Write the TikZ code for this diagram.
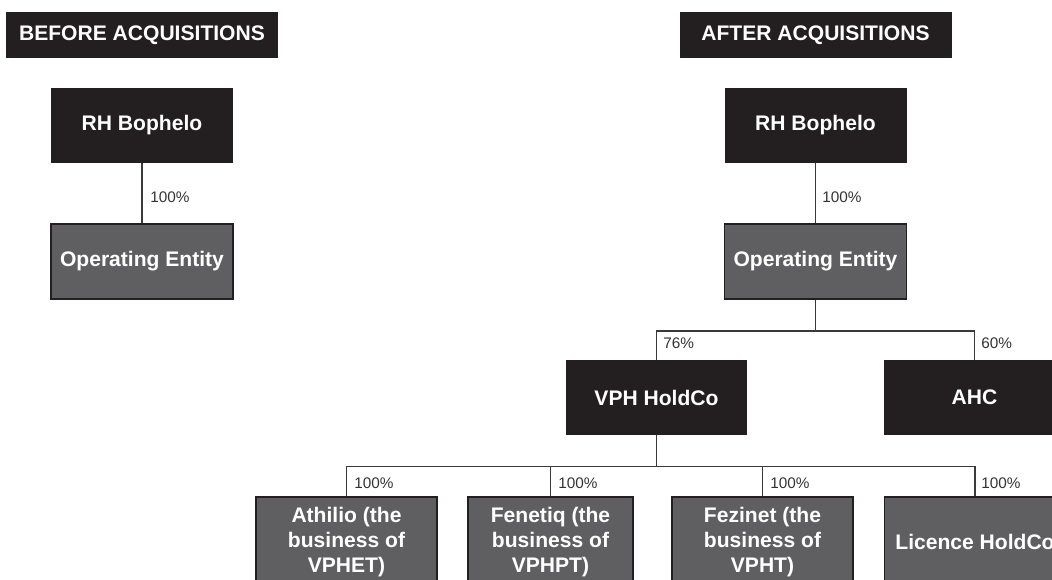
\documentclass[tikz,border=0pt]{standalone}
\usepackage{fontspec}
\setmainfont{Liberation Sans}
\definecolor{darkbox}{HTML}{231F20}
\definecolor{graybox}{HTML}{5F5F61}
\definecolor{linecol}{HTML}{3A3A3A}
\definecolor{labcol}{HTML}{333333}
\begin{document}
\begin{tikzpicture}[x=0.75pt,y=-0.75pt,
  base/.style={inner sep=0pt,align=center,text=white,
    font=\fontsize{15.8}{19}\selectfont\bfseries},
  darkent/.style={base,fill=darkbox,minimum width=136.5pt,minimum height=56.25pt},
  grayent/.style={base,fill=graybox,draw=darkbox,line width=0.8pt,minimum width=136.5pt,minimum height=56.25pt},
  tallent/.style={grayent,minimum width=135.75pt,minimum height=67.5pt},
  header/.style={base,fill=darkbox,minimum width=204pt,minimum height=34.5pt},
  pct/.style={anchor=west,inner sep=0pt,text=labcol,font=\fontsize{11.5}{13}\selectfont},
  conn/.style={draw=linecol,line width=1.1pt}]
\useasboundingbox (0,0) rectangle (1052,579);
\clip (0,0) rectangle (1052,579);

% headers
\node[header] (hb) at (142,35) {BEFORE ACQUISITIONS};
\node[header] (ha) at (815.5,35) {AFTER ACQUISITIONS};

% before
\node[darkent] (rh1) at (142,125.5) {RH Bophelo};
\node[grayent] (op1) at (142,261.5) {Operating Entity};
\draw[conn] (rh1.south) -- (op1.north);
\node[pct] (p1) at (150,197) {100\%};

% after
\node[darkent] (rh2) at (815.5,125.5) {RH Bophelo};
\node[grayent] (op2) at (815.5,261.5) {Operating Entity};
\draw[conn] (rh2.south) -- (op2.north);
\node[pct] (p2) at (822,197) {100\%};

\node[darkent,minimum width=135.75pt] (vph) at (656.5,397.5) {VPH HoldCo};
\node[darkent,minimum width=135.75pt] (ahc) at (974.5,397.5) {AHC};
\coordinate (j1) at (815.5,331);
\draw[conn] (op2.south) -- (j1);
\draw[conn] (vph.north) |- (j1) -| (ahc.north);
\node[pct] (p76) at (663,343) {76\%};
\node[pct] (p60) at (981,343) {60\%};

\node[tallent] (ath) at (346.5,542) {Athilio (the\\business of\\VPHET)};
\node[tallent,minimum width=123.75pt] (fen) at (550.5,542) {Fenetiq (the\\business of\\VPHPT)};
\node[tallent] (fez) at (762.5,542) {Fezinet (the\\business of\\VPHT)};
\node[tallent] (lic) at (975,542) {Licence HoldCo};
\coordinate (j2) at (656.5,466.5);
\draw[conn] (vph.south) -- (j2);
\draw[conn] (ath.north) |- (j2) -| (lic.north);
\draw[conn] (fen.north) -- (fen.north |- j2);
\draw[conn] (fez.north) -- (fez.north |- j2);
\node[pct] (pa) at (354,483) {100\%};
\node[pct] (pb) at (558,483) {100\%};
\node[pct] (pc) at (770,483) {100\%};
\node[pct] (pd) at (981,483) {100\%};
\end{tikzpicture}
\end{document}
